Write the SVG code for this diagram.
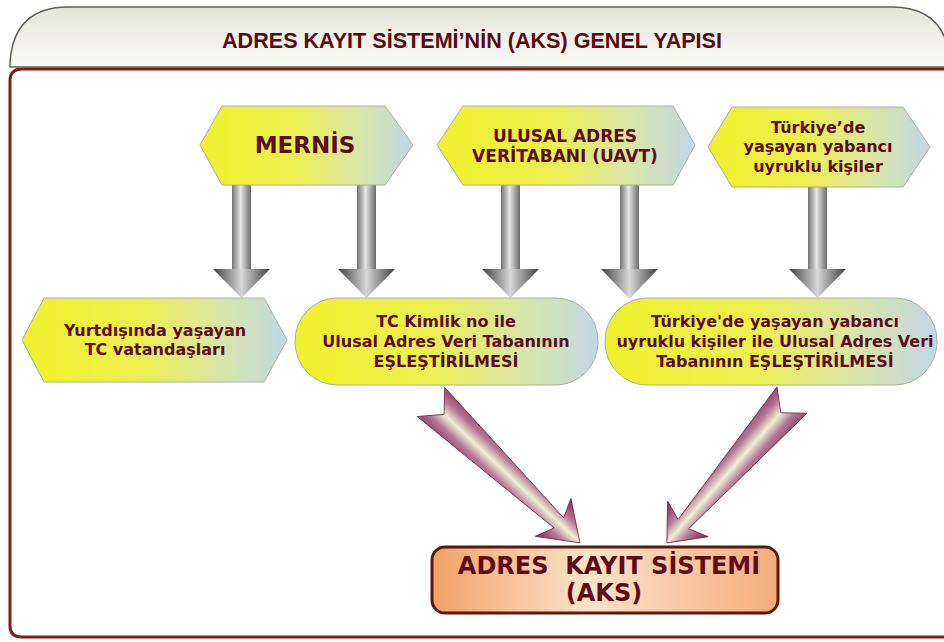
<svg xmlns="http://www.w3.org/2000/svg" width="944" height="642" viewBox="0 0 944 642">
  <defs>
    <linearGradient id="hdrGrad" x1="0" y1="0" x2="0" y2="1">
      <stop offset="0" stop-color="#e4e5d9"/>
      <stop offset="1" stop-color="#fbfbf7"/>
    </linearGradient>
    <linearGradient id="nodeGrad" x1="0" y1="0" x2="1" y2="0">
      <stop offset="0" stop-color="#f0f02c"/>
      <stop offset="0.45" stop-color="#ecef50"/>
      <stop offset="0.75" stop-color="#d9e5a8"/>
      <stop offset="1" stop-color="#c3d7e6"/>
    </linearGradient>
    <linearGradient id="aksGrad" x1="0" y1="0" x2="1" y2="0">
      <stop offset="0" stop-color="#f2a066"/>
      <stop offset="0.45" stop-color="#fde3cb"/>
      <stop offset="1" stop-color="#f4ad7c"/>
    </linearGradient>
    <linearGradient id="shaftGrad" x1="0" y1="0" x2="1" y2="0">
      <stop offset="0" stop-color="#737373"/>
      <stop offset="0.45" stop-color="#e6e6e6"/>
      <stop offset="1" stop-color="#6a6a6a"/>
    </linearGradient>
    <linearGradient id="headGrad" x1="0" y1="0" x2="1" y2="0">
      <stop offset="0" stop-color="#3f3f3f"/>
      <stop offset="0.5" stop-color="#d8d8d8"/>
      <stop offset="1" stop-color="#3f3f3f"/>
    </linearGradient>
    <linearGradient id="purpleGrad" gradientUnits="userSpaceOnUse" x1="0" y1="-26" x2="0" y2="26">
      <stop offset="0" stop-color="#7c2c52"/>
      <stop offset="0.3" stop-color="#b57a95"/>
      <stop offset="0.5" stop-color="#eeeed8"/>
      <stop offset="0.7" stop-color="#b57a95"/>
      <stop offset="1" stop-color="#7c2c52"/>
    </linearGradient>
  </defs>
  <style>
    .node { fill: url(#nodeGrad); stroke: #a9b09c; stroke-width: 1; }
    .ntext { font-family: "DejaVu Sans", Verdana, sans-serif; font-weight: bold; fill: #5c0d16; text-anchor: middle; }
    .shaft { fill: url(#shaftGrad); }
    .head { fill: url(#headGrad); }
    .parrow { fill: url(#purpleGrad); stroke: #6e2446; stroke-width: 0.8; }
  </style>

  <rect x="0" y="0" width="944" height="642" fill="#ffffff"/>

  <g id="frame">
    <path d="M 950 69 L 22 69 Q 10 69 10 81 L 10 626 Q 10 637 22 637 L 950 637" fill="none" stroke="#7a1e1e" stroke-width="3"/>
  </g>

  <g id="header">
    <path d="M 10 67 L 10 62 Q 14 7 68 7 L 892 7 Q 946 7 950 62 L 950 67 Z" fill="url(#hdrGrad)" stroke="#5f5f5f" stroke-width="1.5"/>
    <text x="472" y="48" font-family="'Liberation Sans', Arial, sans-serif" font-weight="bold" font-size="22" fill="#5a0a0f" text-anchor="middle" textLength="500" lengthAdjust="spacingAndGlyphs">ADRES KAYIT SİSTEMİ’NİN (AKS) GENEL YAPISI</text>
  </g>

  <g id="connectors">
    <g id="arrow-mernis-yurtdisi">
      <rect class="shaft" x="232" y="185" width="19" height="85"/>
      <polygon class="head" points="213,269 270,269 241.5,298"/>
    </g>
    <g id="arrow-mernis-tckimlik">
      <rect class="shaft" x="357" y="185" width="19" height="85"/>
      <polygon class="head" points="338,269 395,269 366.5,298"/>
    </g>
    <g id="arrow-uavt-tckimlik">
      <rect class="shaft" x="501" y="185" width="19" height="85"/>
      <polygon class="head" points="482,269 539,269 510.5,298"/>
    </g>
    <g id="arrow-uavt-yabanci">
      <rect class="shaft" x="620" y="185" width="19" height="85"/>
      <polygon class="head" points="601,269 658,269 629.5,299"/>
    </g>
    <g id="arrow-turkiye-yabanci">
      <rect class="shaft" x="808" y="187" width="19" height="83"/>
      <polygon class="head" points="789,269 846,269 817.5,298"/>
    </g>
    <g id="arrow-tckimlik-aks" transform="translate(431,402) rotate(43.4)">
      <polygon class="parrow" points="0,-20 176,-7 168,-26 205,0 168,26 176,7 0,20 18,0"/>
    </g>
    <g id="arrow-yabanci-aks" transform="translate(792,400) rotate(131.2)">
      <polygon class="parrow" points="0,-20 165,-7 158,-27 190,0 158,27 165,7 0,20 17,0"/>
    </g>
  </g>

  <g id="node-mernis">
    <polygon class="node" points="200,145 222,106 385,106 413,145 385,185 222,185"/>
    <text class="ntext" x="305" y="153" font-size="23">MERNİS</text>
  </g>

  <g id="node-uavt">
    <polygon class="node" points="437,145 463,106 673,106 695,145 673,185 463,185"/>
    <text class="ntext" x="565" y="142" font-size="17">ULUSAL ADRES</text>
    <text class="ntext" x="565" y="162" font-size="17">VERİTABANI (UAVT)</text>
  </g>

  <g id="node-turkiye">
    <polygon class="node" points="708,147 732,107 903,107 930,147 903,187 732,187"/>
    <text class="ntext" x="818" y="133" font-size="16">Türkiye’de</text>
    <text class="ntext" x="818" y="152" font-size="16">yaşayan yabancı</text>
    <text class="ntext" x="818" y="172" font-size="16">uyruklu kişiler</text>
  </g>

  <g id="node-yurtdisi">
    <polygon class="node" points="22,340 44,298 264,298 287,340 264,382 44,382"/>
    <text class="ntext" x="155" y="336" font-size="16">Yurtdışında yaşayan</text>
    <text class="ntext" x="155" y="355" font-size="16">TC vatandaşları</text>
  </g>

  <g id="node-tckimlik">
    <rect class="node" x="295" y="298" width="303" height="87" rx="42" ry="43"/>
    <text class="ntext" x="446" y="327" font-size="16">TC Kimlik no ile</text>
    <text class="ntext" x="446" y="347" font-size="16">Ulusal Adres Veri Tabanının</text>
    <text class="ntext" x="446" y="367" font-size="16">EŞLEŞTİRİLMESİ</text>
  </g>

  <g id="node-yabanci">
    <rect class="node" x="605" y="298" width="332" height="87" rx="42" ry="43"/>
    <text class="ntext" x="775" y="327" font-size="16">Türkiye'de yaşayan yabancı</text>
    <text class="ntext" x="775" y="347" font-size="16">uyruklu kişiler ile Ulusal Adres Veri</text>
    <text class="ntext" x="775" y="367" font-size="16">Tabanının EŞLEŞTİRİLMESİ</text>
  </g>

  <g id="node-aks">
    <rect x="432" y="547" width="346" height="66" rx="13" ry="13" fill="url(#aksGrad)" stroke="#5a1a0c" stroke-width="3"/>
    <text class="ntext" x="609" y="574" font-size="24" xml:space="preserve">ADRES  KAYIT SİSTEMİ</text>
    <text class="ntext" x="604" y="601" font-size="24">(AKS)</text>
  </g>
</svg>
